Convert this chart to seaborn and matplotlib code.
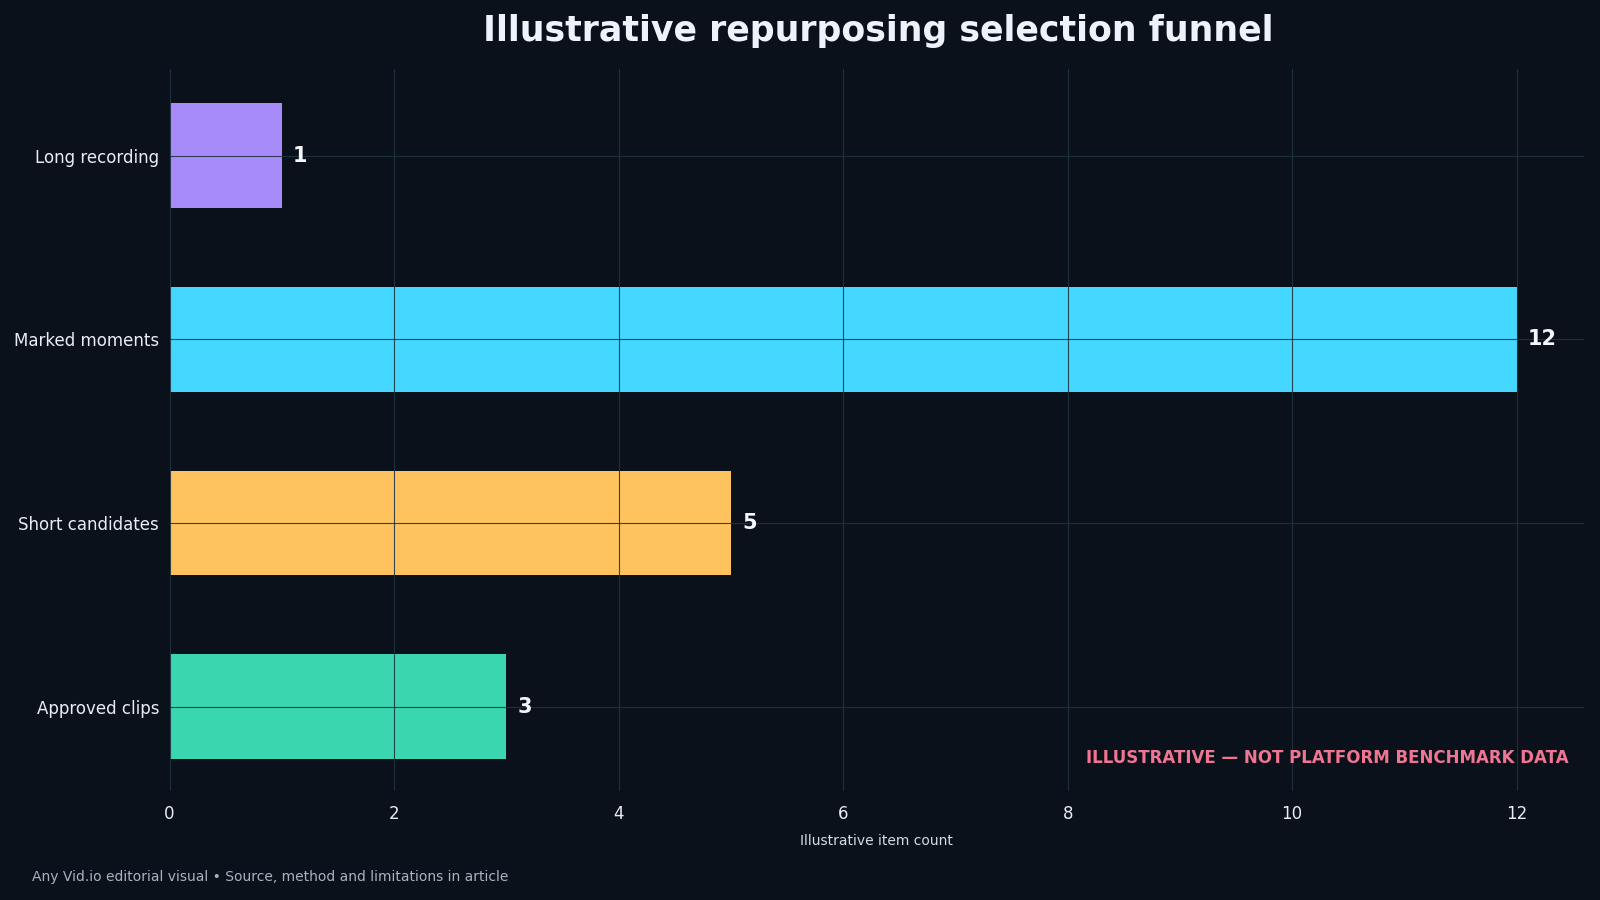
import matplotlib
matplotlib.use("Agg")
import matplotlib.pyplot as plt
import seaborn as sns
import pandas as pd

# chart data
stages = ["Long recording", "Marked moments", "Short candidates", "Approved clips"]
counts = [1, 12, 5, 3]
bar_colors = ["#a78bfa", "#44d7ff", "#fec35e", "#3ad6b0"]

bg = "#0b111b"

sns.set_theme(style="dark")
plt.rcParams["font.family"] = ["DejaVu Sans"]

df = pd.DataFrame({"stage": stages, "count": counts})

fig, ax = plt.subplots(figsize=(16, 9), dpi=100)
fig.patch.set_facecolor(bg)
ax.set_facecolor(bg)
fig.subplots_adjust(left=0.106, right=0.99, top=0.923, bottom=0.121)

sns.barplot(data=df, y="stage", x="count", hue="stage", palette=bar_colors,
            orient="h", width=0.57, legend=False, ax=ax, saturation=1,
            edgecolor="none", linewidth=0)

# grid drawn on top of the bars
ax.set_axisbelow(False)
ax.grid(True, color="#1f3442", linewidth=0.8, alpha=0.9)
for s in ax.spines.values():
    s.set_visible(False)

ax.set_xlim(0, 12.6)
ax.set_ylim(3.46, -0.47)
ax.set_xticks(range(0, 13, 2))
ax.tick_params(axis="both", colors="#e8edf5", labelsize=12, length=4, width=0.8,
               direction="out")
ax.tick_params(axis="x", pad=6)
ax.set_ylabel("")
ax.set_xlabel("Illustrative item count", color="#d5dbe4", fontsize=10, labelpad=8)

for i, v in enumerate(counts):
    ax.text(v + 0.1, i, str(v), color="#f3f6fb", fontsize=15, fontweight="bold",
            va="center", ha="left")

ax.text(0.989, 0.046, "ILLUSTRATIVE \u2014 NOT PLATFORM BENCHMARK DATA",
        transform=ax.transAxes, ha="right", va="center", color="#f07592",
        fontsize=12, fontweight="bold")

fig.suptitle("Illustrative repurposing selection funnel", x=0.549, y=0.965,
             color="#eef2fb", fontsize=25, fontweight="bold", va="center")
fig.text(0.02, 0.025, "Any Vid.io editorial visual \u2022 Source, method and limitations in article",
         color="#a9b2bf", fontsize=10, ha="left", va="center")

fig.savefig("out.png", dpi=100, facecolor=bg)
plt.close(fig)
